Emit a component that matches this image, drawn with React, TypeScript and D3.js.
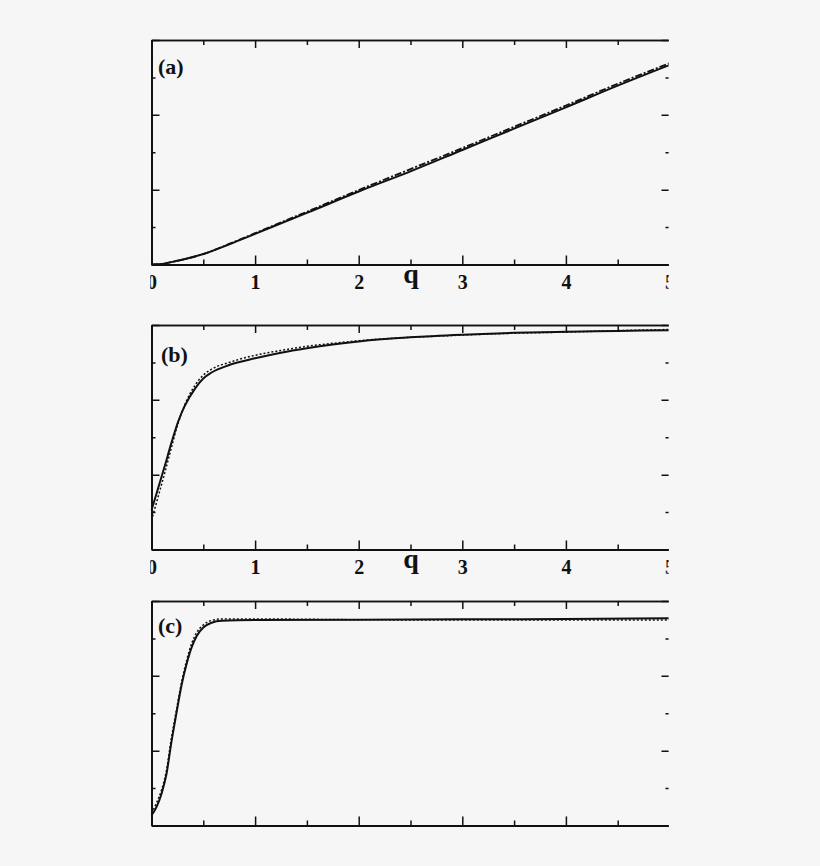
import React, { useEffect, useRef } from 'react';
import * as d3 from 'd3';

// panel (a)
const Q_A = [0, 0.1, 0.25, 0.5, 0.75, 1, 1.5, 2, 2.5, 3, 3.5, 4, 4.5, 5];
const A_SOLID = [0, 0.015, 0.1, 0.28, 0.54, 0.82, 1.38, 1.95, 2.49, 3.06, 3.63, 4.2, 4.78, 5.33];
const A_DASHDOT = [0, 0.015, 0.1, 0.28, 0.55, 0.84, 1.41, 1.99, 2.55, 3.11, 3.68, 4.25, 4.83, 5.38];

// panel (b)
const Q_B = [0, 0.065, 0.13, 0.19, 0.26, 0.32, 0.42, 0.5, 0.58, 0.75, 1, 1.25, 1.5, 1.75, 2, 2.5, 3, 3.5, 4, 4.5, 5];
const B_SOLID = [1.05, 1.65, 2.25, 2.83, 3.44, 3.83, 4.3, 4.57, 4.73, 4.93, 5.11, 5.26, 5.38, 5.48, 5.56, 5.67, 5.74, 5.79, 5.82, 5.84, 5.86];
const B_DOTTED = [0.78, 1.42, 2.07, 2.7, 3.4, 3.86, 4.39, 4.66, 4.82, 5.0, 5.19, 5.32, 5.43, 5.51, 5.58, 5.67, 5.73, 5.78, 5.81, 5.85, 5.88];

// panel (c)
const Q_C = [0, 0.048, 0.097, 0.145, 0.19, 0.24, 0.29, 0.34, 0.39, 0.435, 0.5, 0.58, 0.68, 1, 2, 3, 4, 5];
const C_SOLID = [0.27, 0.49, 0.85, 1.38, 2.19, 2.99, 3.75, 4.33, 4.78, 5.06, 5.29, 5.42, 5.47, 5.49, 5.5, 5.51, 5.52, 5.54];
const C_DOTTED = [0.33, 0.6, 0.95, 1.48, 2.3, 3.08, 3.83, 4.42, 4.88, 5.15, 5.36, 5.48, 5.52, 5.52, 5.5, 5.49, 5.49, 5.49];

const X_MAJOR = [0, 1, 2, 3, 4, 5];
const X_MINOR = [0.5, 1.5, 2.5, 3.5, 4.5];
const Y_MAJOR = [0, 2, 4, 6];
const Y_MINOR = [1, 3, 5];
const PANEL_LABELS = ['(a)', '(b)', '(c)'];

interface Series {
  q: number[];
  v: number[];
  dash: string | null;
  width: number;
}

const W = 820;
const H = 866;
const FONT = '"Liberation Serif", "Times New Roman", serif';

const App: React.FC = () => {
  const ref = useRef<SVGSVGElement | null>(null);

  useEffect(() => {
    const svg = d3.select(ref.current);
    svg.selectAll('*').remove();

    svg.append('rect').attr('width', W).attr('height', H).attr('fill', '#f6f6f6');

    // the figure is cropped at both sides
    svg.append('defs').append('clipPath').attr('id', 'crop')
      .append('rect').attr('x', 150.3).attr('y', 0).attr('width', 668.6 - 150.3).attr('height', H);
    const root = svg.append('g').attr('clip-path', 'url(#crop)');

    const x = d3.scaleLinear().domain([0, 5]).range([151.5, 669.5]);

    const panels = [
      { top: 40, labelDy: 34, labelX: 158, ticks: true, series: [
        { q: Q_A, v: A_DASHDOT, dash: '7,2,2,2', width: 1.8 },
        { q: Q_A, v: A_SOLID, dash: null, width: 2 },
      ] as Series[] },
      { top: 325, labelDy: 37, labelX: 161, ticks: true, series: [
        { q: Q_B, v: B_SOLID, dash: null, width: 2 },
        { q: Q_B, v: B_DOTTED, dash: '2,2', width: 1.5 },
      ] as Series[] },
      { top: 601, labelDy: 32, labelX: 158, ticks: false, series: [
        { q: Q_C, v: C_SOLID, dash: null, width: 2 },
        { q: Q_C, v: C_DOTTED, dash: '2,2', width: 1.5 },
      ] as Series[] },
    ];
    const ph = 224.5;

    const styleAxis = (g: d3.Selection<SVGGElement, unknown, null, undefined>, dw = 1.8) => {
      g.select('.domain').attr('stroke', '#111').attr('stroke-width', dw);
      g.selectAll('.tick line').attr('stroke', '#111').attr('stroke-width', 1.5);
    };

    panels.forEach((p, i) => {
      const bottom = p.top + ph;
      const y = d3.scaleLinear().domain([0, 6]).range([bottom, p.top]);
      const g = root.append('g');

      // bottom axis
      const bMaj = g.append('g').attr('transform', `translate(0,${bottom})`)
        .call(d3.axisBottom(x).tickValues(X_MAJOR).tickSizeInner(-9).tickSizeOuter(0).tickPadding(10)
          .tickFormat(d => (p.ticks ? d3.format('d')(d as number) : '')));
      styleAxis(bMaj, 2);
      bMaj.selectAll('text')
        .attr('font-family', FONT).attr('font-weight', 'bold').attr('font-size', 20).attr('fill', '#111');
      const bMin = g.append('g').attr('transform', `translate(0,${bottom})`)
        .call(d3.axisBottom(x).tickValues(X_MINOR).tickSizeInner(-5).tickSizeOuter(0).tickFormat(() => ''));
      styleAxis(bMin, 2);

      // top axis
      const tMaj = g.append('g').attr('transform', `translate(0,${p.top})`)
        .call(d3.axisTop(x).tickValues(X_MAJOR).tickSizeInner(-8).tickSizeOuter(0).tickFormat(() => ''));
      styleAxis(tMaj, 1.6);
      const tMin = g.append('g').attr('transform', `translate(0,${p.top})`)
        .call(d3.axisTop(x).tickValues(X_MINOR).tickSizeInner(-5).tickSizeOuter(0).tickFormat(() => ''));
      styleAxis(tMin, 1.6);

      // left axis
      const lMaj = g.append('g').attr('transform', `translate(${x(0)},0)`)
        .call(d3.axisLeft(y).tickValues(Y_MAJOR).tickSizeInner(-8).tickSizeOuter(0).tickFormat(() => ''));
      styleAxis(lMaj, 1.8);
      const lMin = g.append('g').attr('transform', `translate(${x(0)},0)`)
        .call(d3.axisLeft(y).tickValues(Y_MINOR).tickSizeInner(-4).tickSizeOuter(0).tickFormat(() => ''));
      styleAxis(lMin, 1.8);

      // right axis
      const rMaj = g.append('g').attr('transform', `translate(${x(5)},0)`)
        .call(d3.axisRight(y).tickValues(Y_MAJOR).tickSizeInner(-8).tickSizeOuter(0).tickFormat(() => ''));
      styleAxis(rMaj, 1.8);
      const rMin = g.append('g').attr('transform', `translate(${x(5)},0)`)
        .call(d3.axisRight(y).tickValues(Y_MINOR).tickSizeInner(-4).tickSizeOuter(0).tickFormat(() => ''));
      styleAxis(rMin, 1.8);

      if (p.ticks) {
        g.append('text')
          .attr('x', 411).attr('y', bottom + 18)
          .attr('text-anchor', 'middle')
          .attr('font-family', FONT).attr('font-weight', 'bold').attr('font-size', 28)
          .attr('fill', '#111')
          .text('q');
      }

      g.append('text')
        .attr('x', p.labelX).attr('y', p.top + p.labelDy)
        .attr('font-family', FONT).attr('font-weight', 'bold').attr('font-size', 22)
        .attr('fill', '#111')
        .text(PANEL_LABELS[i]);

      p.series.forEach(s => {
        const line = d3.line<number>()
          .x((_, k) => x(s.q[k]))
          .y(d => y(d))
          .curve(d3.curveMonotoneX);
        g.append('path')
          .attr('d', line(s.v))
          .attr('fill', 'none')
          .attr('stroke', '#111')
          .attr('stroke-width', s.width)
          .attr('stroke-dasharray', s.dash)
          .attr('stroke-linejoin', 'round');
      });
    });
  }, []);

  return (
    <svg ref={ref} width={W} height={H} style={{ position: 'absolute', left: 0, top: 0, display: 'block' }}></svg>
  );
};

export default App;
